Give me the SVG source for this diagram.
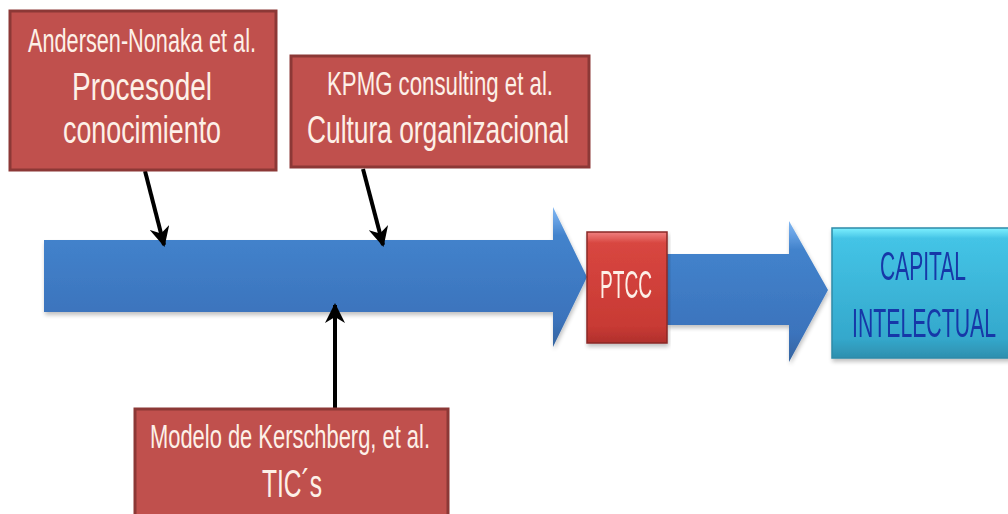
<svg xmlns="http://www.w3.org/2000/svg" width="1008" height="514" viewBox="0 0 1008 514">
  <defs>
    <linearGradient id="blueArrow" x1="0" y1="0" x2="0" y2="1">
      <stop offset="0" stop-color="#7fb6f0"/>
      <stop offset="0.08" stop-color="#6aa4e6"/>
      <stop offset="0.2" stop-color="#4383cc"/>
      <stop offset="0.8" stop-color="#3b73bc"/>
      <stop offset="1" stop-color="#35649f"/>
    </linearGradient>
    <linearGradient id="ptccFill" x1="0" y1="0" x2="0" y2="1">
      <stop offset="0" stop-color="#f08080"/>
      <stop offset="0.1" stop-color="#d84640"/>
      <stop offset="0.85" stop-color="#c83a34"/>
      <stop offset="1" stop-color="#b0302c"/>
    </linearGradient>
    <linearGradient id="capFill" x1="0" y1="0" x2="0" y2="1">
      <stop offset="0" stop-color="#7ef0ff"/>
      <stop offset="0.08" stop-color="#44c4e6"/>
      <stop offset="0.85" stop-color="#34a8cc"/>
      <stop offset="1" stop-color="#2e8fae"/>
    </linearGradient>
    <marker id="arrowHead" viewBox="0 0 10 10" refX="9" refY="5" markerWidth="5" markerHeight="5" orient="auto">
      <path d="M0,0 L10,5 L0,10 L3,5 z" fill="#000"/>
    </marker>
    <filter id="shadow" x="-5%" y="-10%" width="110%" height="130%">
      <feGaussianBlur in="SourceAlpha" stdDeviation="2"/>
      <feOffset dx="1" dy="3"/>
      <feComponentTransfer><feFuncA type="linear" slope="0.25"/></feComponentTransfer>
      <feMerge><feMergeNode/><feMergeNode in="SourceGraphic"/></feMerge>
    </filter>
  </defs>
  <style>
    .redBox { fill: #c0504d; stroke: #8c3836; stroke-width: 3; }
    .lbl { font-family: "Liberation Sans", "DejaVu Sans", sans-serif; fill: #fdf0e8; text-anchor: middle; }
    .small { font-size: 33px; }
    .big { font-size: 38px; }
    .cap { font-family: "Liberation Sans", "DejaVu Sans", sans-serif; fill: #1838a8; font-size: 41px; text-anchor: middle; }
    .link { stroke: #000; stroke-width: 4; fill: none; marker-end: url(#arrowHead); }
  </style>

  <!-- main flow arrows -->
  <g id="flow-arrow-1" filter="url(#shadow)">
    <path d="M44,240 L553,240 L553,207 L587,277 L553,347 L553,312 L44,312 Z" fill="url(#blueArrow)"/>
  </g>
  <g id="flow-arrow-2" filter="url(#shadow)">
    <path d="M667,254 L789,254 L789,221 L828,290 L789,362 L789,325 L667,325 Z" fill="url(#blueArrow)"/>
  </g>

  <!-- connectors -->
  <g id="connectors">
    <line class="link" x1="145" y1="171" x2="164" y2="245"/>
    <line class="link" x1="363" y1="169" x2="383" y2="245"/>
    <line class="link" x1="335" y1="408" x2="335" y2="305"/>
  </g>

  <g id="node-andersen">
    <rect class="redBox" x="10" y="11" width="266" height="159"/>
    <text class="lbl small" x="142" y="52" textLength="228" lengthAdjust="spacingAndGlyphs">Andersen-Nonaka et al.</text>
    <text class="lbl big" x="142" y="100" textLength="140" lengthAdjust="spacingAndGlyphs">Procesodel</text>
    <text class="lbl big" x="142" y="143" textLength="158" lengthAdjust="spacingAndGlyphs">conocimiento</text>
  </g>

  <g id="node-kpmg">
    <rect class="redBox" x="291" y="56" width="298" height="111"/>
    <text class="lbl small" x="440" y="95" textLength="226" lengthAdjust="spacingAndGlyphs">KPMG consulting et al.</text>
    <text class="lbl big" x="438" y="143" textLength="262" lengthAdjust="spacingAndGlyphs">Cultura organizacional</text>
  </g>

  <g id="node-kerschberg">
    <rect class="redBox" x="135" y="409" width="313" height="110"/>
    <text class="lbl small" x="290" y="448" textLength="280" lengthAdjust="spacingAndGlyphs">Modelo de Kerschberg, et al.</text>
    <text class="lbl big" x="292" y="497" textLength="60" lengthAdjust="spacingAndGlyphs">TIC´s</text>
  </g>

  <g id="node-ptcc" filter="url(#shadow)">
    <rect x="587" y="232" width="80" height="111" fill="url(#ptccFill)" stroke="#8a2a26" stroke-width="1.5"/>
    <text class="lbl" x="626" y="298" font-size="38" textLength="52" lengthAdjust="spacingAndGlyphs">PTCC</text>
  </g>

  <g id="node-capital" filter="url(#shadow)">
    <rect x="832" y="228" width="180" height="130" fill="url(#capFill)" stroke="#2f8aa8" stroke-width="1.5"/>
    <text class="cap" x="923" y="280" textLength="86" lengthAdjust="spacingAndGlyphs">CAPITAL</text>
    <text class="cap" x="924" y="337" textLength="144" lengthAdjust="spacingAndGlyphs">INTELECTUAL</text>
  </g>
</svg>
